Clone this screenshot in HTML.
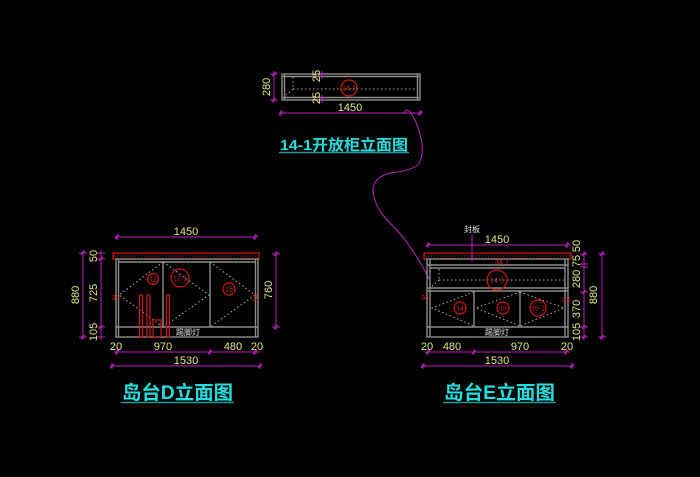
<!DOCTYPE html>
<html><head><meta charset="utf-8"><style>
html,body{margin:0;padding:0;background:#000;}
svg{display:block;}
.g{stroke:#8c8c8c;stroke-width:1.4;fill:none;}
.d{stroke:#b0b0b0;stroke-width:1;fill:none;stroke-dasharray:1.5 2.5;}
.m{stroke:#c020c0;stroke-width:1;fill:none;}
.r{stroke:#d01818;stroke-width:1.2;fill:none;}
.y{fill:#e6e67a;font-family:"Liberation Sans",sans-serif;font-size:11px;}
.rt{fill:#e02020;font-family:"Liberation Sans",sans-serif;font-size:7px;}
.w{fill:#e0e0e0;font-family:"Liberation Sans","Noto Sans CJK SC",sans-serif;font-size:8px;}
.t{fill:#22e0e0;font-family:"Liberation Sans","Noto Sans CJK SC",sans-serif;font-weight:bold;}
</style></head><body>
<svg width="700" height="477" viewBox="0 0 700 477" xmlns="http://www.w3.org/2000/svg">
<rect width="700" height="477" fill="#000"/>

<!-- ===== Top cabinet 14-1 ===== -->
<rect class="g" x="282" y="74" width="138" height="26"/>
<line class="g" x1="283" y1="76.5" x2="419" y2="76.5"/>
<line class="g" x1="283" y1="97.5" x2="419" y2="97.5"/>
<line class="g" x1="284.5" y1="74" x2="284.5" y2="100"/>
<line class="g" x1="417.5" y1="74" x2="417.5" y2="100"/>
<line class="d" x1="293" y1="77" x2="293" y2="89"/>
<line class="d" x1="293" y1="89" x2="286" y2="95"/>
<line class="d" x1="293" y1="89" x2="417" y2="89"/>
<circle class="r" cx="349" cy="88" r="8"/>
<text class="rt" x="349" y="90.5" text-anchor="middle">14-1</text>
<!-- 280 dim -->
<line class="m" x1="274" y1="71" x2="274" y2="103"/>
<line class="m" x1="270" y1="74" x2="278" y2="74"/><line class="m" x1="270" y1="100" x2="278" y2="100"/>
<line class="m" x1="272" y1="76" x2="276" y2="72"/><line class="m" x1="272" y1="102" x2="276" y2="98"/>
<text class="y" transform="translate(270,87) rotate(-90)" text-anchor="middle">280</text>
<!-- 25 dims -->
<line class="m" x1="322" y1="71" x2="322" y2="79"/><line class="m" x1="320" y1="77" x2="324" y2="73"/>
<line class="m" x1="322" y1="95" x2="322" y2="103"/><line class="m" x1="320" y1="101" x2="324" y2="97"/>
<text class="y" transform="translate(320,76) rotate(-90)" text-anchor="middle" font-size="10">25</text>
<text class="y" transform="translate(320,98) rotate(-90)" text-anchor="middle" font-size="10">25</text>
<!-- 1450 -->
<line class="m" x1="279" y1="113" x2="423" y2="113"/>
<line class="m" x1="281" y1="110" x2="281" y2="116"/><line class="m" x1="420" y1="110" x2="420" y2="116"/>
<line class="m" x1="279" y1="115" x2="283" y2="111"/><line class="m" x1="418" y1="115" x2="422" y2="111"/>
<text class="y" x="350" y="111" text-anchor="middle">1450</text>
<text class="t" x="280" y="150" font-size="15" textLength="128" lengthAdjust="spacingAndGlyphs">14-1开放柜立面图</text>
<line x1="279" y1="152.5" x2="409" y2="152.5" stroke="#1a9a9a" stroke-width="1.5"/>

<!-- leader curve -->
<path class="m" d="M404,113 Q408,105 415,120 Q428,150 418,165 Q410,171 390,173 Q372,178 373,192 Q375,210 395,228 Q415,250 429,279"/>

<!-- ===== D cabinet ===== -->
<rect class="r" x="113" y="253" width="146" height="6"/>
<line class="r" x1="114" y1="256" x2="258" y2="256" stroke-dasharray="1 2"/>
<rect class="g" x="116" y="259" width="142" height="78"/>
<line class="g" x1="118.5" y1="259" x2="118.5" y2="337"/>
<line class="g" x1="255.5" y1="259" x2="255.5" y2="337"/>
<line class="g" x1="118" y1="262" x2="256" y2="262"/>
<line class="g" x1="116" y1="327" x2="258" y2="327"/>
<line class="g" x1="163" y1="262" x2="163" y2="327"/>
<line class="g" x1="210" y1="262" x2="210" y2="327"/>
<path class="d" d="M163,262 L119,295 L163,327"/>
<path class="d" d="M163,262 L209,295 L163,327"/>
<path class="d" d="M210,262 L255,295 L210,327"/>
<rect class="r" x="139.5" y="295" width="3" height="42"/>
<rect class="r" x="147" y="295" width="3" height="42"/>
<rect class="r" x="166.5" y="295" width="3" height="42"/>
<rect class="r" x="153" y="320" width="8" height="17"/>
<circle class="r" cx="153" cy="279" r="5.5"/>
<text class="rt" x="153" y="281.5" text-anchor="middle">12</text>
<circle class="r" cx="180" cy="278" r="9"/>
<text class="rt" x="180" y="280.5" text-anchor="middle">12-1</text>
<circle class="r" cx="229" cy="289" r="6"/>
<text class="rt" x="229" y="291.5" text-anchor="middle">15</text>
<text class="rt" x="116" y="300" text-anchor="middle" font-size="8">33</text>
<text class="rt" transform="translate(258,298) rotate(-90)" text-anchor="middle" font-size="8">34</text>
<text class="w" x="188" y="335" text-anchor="middle">踢脚灯</text>
<!-- D dims -->
<line class="m" x1="115" y1="237" x2="258" y2="237"/>
<line class="m" x1="117" y1="234" x2="117" y2="240"/><line class="m" x1="255" y1="234" x2="255" y2="240"/>
<line class="m" x1="115" y1="239" x2="119" y2="235"/><line class="m" x1="253" y1="239" x2="257" y2="235"/>
<text class="y" x="186" y="235" text-anchor="middle">1450</text>

<line class="m" x1="83" y1="250" x2="83" y2="340"/>
<line class="m" x1="79" y1="253" x2="87" y2="253"/><line class="m" x1="79" y1="337" x2="87" y2="337"/>
<line class="m" x1="81" y1="255" x2="85" y2="251"/><line class="m" x1="81" y1="339" x2="85" y2="335"/>
<text class="y" transform="translate(79,295) rotate(-90)" text-anchor="middle">880</text>

<line class="m" x1="101" y1="250" x2="101" y2="340"/>
<line class="m" x1="97" y1="253" x2="105" y2="253"/><line class="m" x1="97" y1="259" x2="105" y2="259"/>
<line class="m" x1="97" y1="327" x2="105" y2="327"/><line class="m" x1="97" y1="337" x2="105" y2="337"/>
<line class="m" x1="99" y1="261" x2="103" y2="257"/><line class="m" x1="99" y1="329" x2="103" y2="325"/>
<text class="y" transform="translate(97,256) rotate(-90)" text-anchor="middle" font-size="10">50</text>
<text class="y" transform="translate(97,293) rotate(-90)" text-anchor="middle">725</text>
<text class="y" transform="translate(97,332) rotate(-90)" text-anchor="middle" font-size="10">105</text>

<line class="m" x1="276" y1="251" x2="276" y2="330"/>
<line class="m" x1="272" y1="254" x2="280" y2="254"/><line class="m" x1="272" y1="327" x2="280" y2="327"/>
<line class="m" x1="274" y1="256" x2="278" y2="252"/><line class="m" x1="274" y1="329" x2="278" y2="325"/>
<text class="y" transform="translate(272,290) rotate(-90)" text-anchor="middle">760</text>

<line class="m" x1="114" y1="352" x2="260" y2="352"/>
<line class="m" x1="117" y1="349" x2="117" y2="355"/><line class="m" x1="210" y1="349" x2="210" y2="355"/><line class="m" x1="255" y1="349" x2="255" y2="355"/>
<line class="m" x1="115" y1="354" x2="119" y2="350"/><line class="m" x1="208" y1="354" x2="212" y2="350"/><line class="m" x1="253" y1="354" x2="257" y2="350"/>
<text class="y" x="116" y="350" text-anchor="middle">20</text>
<text class="y" x="163" y="350" text-anchor="middle">970</text>
<text class="y" x="233" y="350" text-anchor="middle">480</text>
<text class="y" x="257" y="350" text-anchor="middle">20</text>
<line class="m" x1="110" y1="366" x2="262" y2="366"/>
<line class="m" x1="112" y1="363" x2="112" y2="369"/><line class="m" x1="260" y1="363" x2="260" y2="369"/>
<line class="m" x1="110" y1="368" x2="114" y2="364"/><line class="m" x1="258" y1="368" x2="262" y2="364"/>
<text class="y" x="186" y="364" text-anchor="middle">1530</text>
<text class="t" x="122" y="399" font-size="19" textLength="111" lengthAdjust="spacingAndGlyphs">岛台D立面图</text>
<line x1="121" y1="402.5" x2="234" y2="402.5" stroke="#1a9a9a" stroke-width="1.5"/>

<!-- ===== E cabinet ===== -->
<rect class="r" x="424" y="253" width="147" height="6"/>
<line class="r" x1="425" y1="256" x2="570" y2="256" stroke-dasharray="1 2"/>
<rect class="g" x="427" y="259" width="141" height="78"/>
<line class="g" x1="430" y1="259" x2="430" y2="337"/>
<line class="g" x1="565" y1="259" x2="565" y2="337"/>
<line class="g" x1="427" y1="265" x2="568" y2="265"/>
<line class="g" x1="430" y1="268" x2="565" y2="268"/>
<line class="g" x1="427" y1="288" x2="568" y2="288"/>
<line class="g" x1="427" y1="291" x2="568" y2="291"/>
<line class="g" x1="427" y1="327" x2="568" y2="327"/>
<line class="g" x1="474" y1="291" x2="474" y2="327"/>
<line class="g" x1="520" y1="291" x2="520" y2="327"/>
<line class="d" x1="439" y1="269" x2="439" y2="280"/>
<line class="d" x1="439" y1="280" x2="431" y2="287"/>
<line class="d" x1="439" y1="280" x2="564" y2="280"/>
<path class="d" d="M474,292 L432,308 L474,326"/>
<path class="d" d="M520,292 L476,308 L520,326"/>
<path class="d" d="M520,292 L564,308 L520,326"/>
<circle class="r" cx="497" cy="280" r="10"/>
<text class="rt" x="497" y="282.5" text-anchor="middle">14-1</text>
<circle class="r" cx="460" cy="308" r="6"/>
<text class="rt" x="460" y="310.5" text-anchor="middle">14</text>
<circle class="r" cx="503" cy="308" r="6"/>
<text class="rt" x="503" y="310.5" text-anchor="middle">15</text>
<circle class="r" cx="538" cy="308" r="8"/>
<text class="rt" x="538" y="310.5" text-anchor="middle">15-1</text>
<text class="rt" x="502" y="264.5" text-anchor="middle" font-size="8">34-1</text>
<text class="rt" x="425" y="300" text-anchor="middle" font-size="8">34</text>
<text class="rt" x="566" y="302" text-anchor="middle" font-size="8">33</text>
<text class="w" x="497" y="335" text-anchor="middle">踢脚灯</text>
<text class="w" x="472" y="232" text-anchor="middle" font-size="7">封板</text>
<line class="m" x1="472" y1="235" x2="472" y2="261"/>
<!-- E dims -->
<line class="m" x1="426" y1="245" x2="570" y2="245"/>
<line class="m" x1="428" y1="242" x2="428" y2="248"/><line class="m" x1="567" y1="242" x2="567" y2="248"/>
<line class="m" x1="426" y1="247" x2="430" y2="243"/><line class="m" x1="565" y1="247" x2="569" y2="243"/>
<text class="y" x="497" y="243" text-anchor="middle">1450</text>

<line class="m" x1="584" y1="251" x2="584" y2="340"/>
<line class="m" x1="580" y1="254" x2="588" y2="254"/><line class="m" x1="580" y1="264" x2="588" y2="264"/>
<line class="m" x1="580" y1="267" x2="588" y2="267"/><line class="m" x1="580" y1="292" x2="588" y2="292"/>
<line class="m" x1="580" y1="327" x2="588" y2="327"/><line class="m" x1="580" y1="337" x2="588" y2="337"/>
<line class="m" x1="582" y1="256" x2="586" y2="252"/><line class="m" x1="582" y1="294" x2="586" y2="290"/>
<line class="m" x1="582" y1="329" x2="586" y2="325"/><line class="m" x1="582" y1="339" x2="586" y2="335"/>
<text class="y" transform="translate(580,246) rotate(-90)" text-anchor="middle" font-size="10">50</text>
<text class="y" transform="translate(580,261) rotate(-90)" text-anchor="middle" font-size="10">75</text>
<text class="y" transform="translate(580,279) rotate(-90)" text-anchor="middle">280</text>
<text class="y" transform="translate(580,309) rotate(-90)" text-anchor="middle">370</text>
<text class="y" transform="translate(580,332) rotate(-90)" text-anchor="middle" font-size="10">105</text>

<line class="m" x1="602" y1="251" x2="602" y2="340"/>
<line class="m" x1="598" y1="254" x2="606" y2="254"/><line class="m" x1="598" y1="337" x2="606" y2="337"/>
<line class="m" x1="600" y1="256" x2="604" y2="252"/><line class="m" x1="600" y1="339" x2="604" y2="335"/>
<text class="y" transform="translate(597,295) rotate(-90)" text-anchor="middle">880</text>

<line class="m" x1="425" y1="352" x2="570" y2="352"/>
<line class="m" x1="428" y1="349" x2="428" y2="355"/><line class="m" x1="474" y1="349" x2="474" y2="355"/><line class="m" x1="566" y1="349" x2="566" y2="355"/>
<line class="m" x1="426" y1="354" x2="430" y2="350"/><line class="m" x1="472" y1="354" x2="476" y2="350"/><line class="m" x1="564" y1="354" x2="568" y2="350"/>
<text class="y" x="427" y="350" text-anchor="middle">20</text>
<text class="y" x="452" y="350" text-anchor="middle">480</text>
<text class="y" x="520" y="350" text-anchor="middle">970</text>
<text class="y" x="567" y="350" text-anchor="middle">20</text>
<line class="m" x1="421" y1="366" x2="574" y2="366"/>
<line class="m" x1="423" y1="363" x2="423" y2="369"/><line class="m" x1="572" y1="363" x2="572" y2="369"/>
<line class="m" x1="421" y1="368" x2="425" y2="364"/><line class="m" x1="570" y1="368" x2="574" y2="364"/>
<text class="y" x="497" y="364" text-anchor="middle">1530</text>
<text class="t" x="444" y="399" font-size="19" textLength="111" lengthAdjust="spacingAndGlyphs">岛台E立面图</text>
<line x1="443" y1="402.5" x2="556" y2="402.5" stroke="#1a9a9a" stroke-width="1.5"/>
</svg>
</body></html>
